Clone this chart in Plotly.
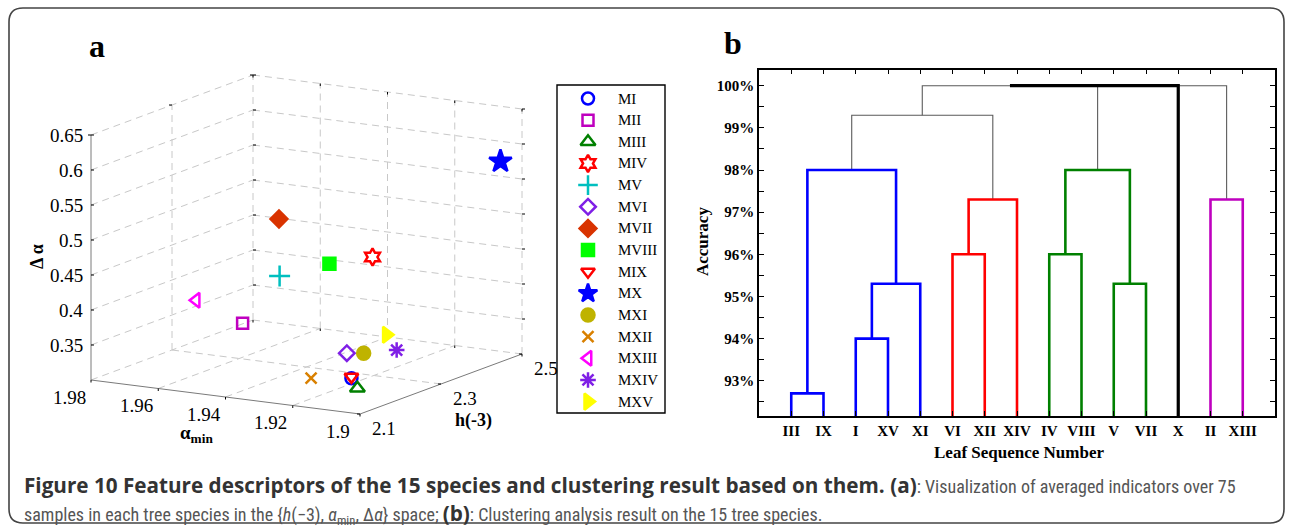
import plotly.graph_objects as go

W, H = 1292, 531

# ---------------- panel a: averaged indicators of each species ----------------
SPECIES = ["MI", "MII", "MIII", "MIV", "MV", "MVI", "MVII", "MVIII",
           "MIX", "MX", "MXI", "MXII", "MXIII", "MXIV", "MXV"]
H3 = [2.22, 2.30, 2.16, 2.38, 2.30, 2.30, 2.34, 2.34,
      2.22, 2.48, 2.30, 2.22, 2.26, 2.34, 2.34]
ALPHA_MIN = [1.917, 1.959, 1.908, 1.930, 1.948, 1.928, 1.953, 1.938,
             1.917, 1.904, 1.923, 1.929, 1.968, 1.918, 1.921]
DELTA_ALPHA = [0.315, 0.351, 0.319, 0.446, 0.425, 0.327, 0.495, 0.440,
               0.317, 0.577, 0.330, 0.308, 0.387, 0.329, 0.349]

SYMBOLS = ["circle-open", "square-open", "triangle-up-open", "hexagram-open",
           "cross-thin-open", "diamond-open", "diamond", "square",
           "triangle-down-open", "star", "circle", "x-thin-open",
           "triangle-left-open", "asterisk-open", "triangle-right"]
COLORS = ["#0000FF", "#BF00BF", "#008000", "#FF0000", "#00BFBF", "#7F1FE6",
          "#D93300", "#00FF00", "#FF0000", "#0000FF", "#BFB300", "#D98000",
          "#FF00FF", "#7F1FE6", "#FFFF00"]
SIZES = [12, 11, 13, 13, 15, 12, 13, 12, 12, 17, 13, 11, 13, 13, 14]

ALPHA_TICKS = [1.98, 1.96, 1.94, 1.92, 1.90]
H_TICKS = [2.1, 2.3, 2.5]
DA_TICKS = [0.35, 0.40, 0.45, 0.50, 0.55, 0.60, 0.65]

# box limits of the 3-D view
A_LO, A_HI = 1.90, 1.98
H_LO, H_HI = 2.1, 2.5
Z_LO, Z_HI = 0.30, 0.65

# oblique projection of the 3-D box onto the page (pixels)
ORIGIN = (91.0, 380.0)     # corner alpha=1.98, h=2.1, delta=0.30
EU = (269.0, 34.0)         # alpha 1.98 -> 1.90
EV = (162.0, -60.0)        # h 2.1 -> 2.5
EZ = 700.0                 # pixels per unit of delta alpha


def proj(a, h, z):
    u = (A_HI - a) / (A_HI - A_LO)
    v = (h - H_LO) / (H_HI - H_LO)
    return (ORIGIN[0] + EU[0] * u + EV[0] * v,
            ORIGIN[1] + EU[1] * u + EV[1] * v - EZ * (z - Z_LO))


def seg_list(pairs):
    xs, ys = [], []
    for p, q in pairs:
        xs += [p[0], q[0], None]
        ys += [p[1], q[1], None]
    return xs, ys


# ---------------- panel b: dendrogram ----------------
LEAVES = ["III", "IX", "I", "XV", "XI", "VI", "XII", "XIV",
          "IV", "VIII", "V", "VII", "X", "II", "XIII"]
# merge k creates node 15+k from nodes LINK_A[k] and LINK_B[k]
LINK_A = [0, 2, 16, 15, 5, 19, 18, 8, 10, 22, 13, 21, 26, 27]
LINK_B = [1, 3, 4, 17, 6, 7, 20, 9, 11, 23, 14, 24, 12, 25]
LINK_ACC = [92.7, 94.0, 95.3, 98.0, 96.0, 97.3, 99.3,
            96.0, 95.3, 98.0, 97.3, 100.0, 100.0, 100.0]
LINK_GROUP = ["blue", "blue", "blue", "blue", "red", "red", "top",
              "green", "green", "green", "magenta", "top", "single", "top"]
ACC_TICKS = [92.5 + 0.5 * i for i in range(16)]

serif = "Liberation Serif, Times New Roman, serif"

fig = go.Figure()

# ---- 3-D box: grid lines ----
grid = []
for a in ALPHA_TICKS:                       # floor, constant alpha
    if a != A_LO:
        grid.append((proj(a, H_LO, Z_LO), proj(a, H_HI, Z_LO)))
for h in H_TICKS:                           # floor, constant h
    if h != H_LO:
        grid.append((proj(A_HI, h, Z_LO), proj(A_LO, h, Z_LO)))
for z in DA_TICKS:                          # back walls, constant delta
    grid.append((proj(A_HI, H_LO, z), proj(A_HI, H_HI, z)))
    grid.append((proj(A_HI, H_HI, z), proj(A_LO, H_HI, z)))
for h in H_TICKS:                           # wall alpha=1.98, verticals
    if h != H_LO:
        grid.append((proj(A_HI, h, Z_LO), proj(A_HI, h, Z_HI)))
for a in ALPHA_TICKS:                       # wall h=2.5, verticals
    if a != A_HI:
        grid.append((proj(a, H_HI, Z_LO), proj(a, H_HI, Z_HI)))
gx, gy = seg_list(grid)
fig.add_trace(go.Scatter(x=gx, y=gy, mode="lines", hoverinfo="skip",
                         line=dict(color="#C8C8C8", width=1, dash="7px,5px"),
                         showlegend=False))

# ---- 3-D box: axis lines ----
axes3d = [(proj(A_HI, H_LO, Z_LO), proj(A_HI, H_LO, Z_HI)),
          (proj(A_HI, H_LO, Z_LO), proj(A_LO, H_LO, Z_LO)),
          (proj(A_LO, H_LO, Z_LO), proj(A_LO, H_HI, Z_LO))]
ax_, ay_ = seg_list(axes3d)
fig.add_trace(go.Scatter(x=ax_, y=ay_, mode="lines", hoverinfo="skip",
                         line=dict(color="#7A7A7A", width=1), showlegend=False))

# ---- 3-D box: tick marks ----
ticks = []
for z in DA_TICKS:
    for a, h in [(A_HI, H_LO), (A_HI, H_HI), (A_LO, H_HI)]:
        px, py = proj(a, h, z)
        ticks.append(((px, py), (px + 3, py)))
for a in ALPHA_TICKS:
    for h, z in [(H_LO, Z_LO), (H_HI, Z_LO), (H_HI, Z_HI)]:
        px, py = proj(a, h, z)
        ticks.append(((px, py), (px, py + 2.5)))
for h in H_TICKS:
    for a, z in [(A_LO, Z_LO), (A_HI, Z_HI)]:
        px, py = proj(a, h, z)
        ticks.append(((px, py), (px - 3, py)))
tx, ty = seg_list(ticks)
fig.add_trace(go.Scatter(x=tx, y=ty, mode="lines", hoverinfo="skip",
                         line=dict(color="#000000", width=1), showlegend=False))

# ---- species points ----
pts = [proj(a, h, z) for a, h, z in zip(ALPHA_MIN, H3, DELTA_ALPHA)]
fig.add_trace(go.Scatter(
    x=[p[0] for p in pts], y=[p[1] for p in pts], mode="markers",
    text=SPECIES, hoverinfo="text", showlegend=False,
    marker=dict(symbol=SYMBOLS, color=COLORS, size=SIZES, opacity=1,
                line=dict(color=COLORS, width=2.5))))

# ---- legend box for panel a ----
LEG_X0, LEG_X1, LEG_Y0, LEG_Y1 = 557, 665, 85, 413
LEG_ROW0, LEG_STEP = 98.5, 21.65
leg_y = [LEG_ROW0 + i * LEG_STEP for i in range(len(SPECIES))]
fig.add_trace(go.Scatter(
    x=[588] * len(SPECIES), y=leg_y, mode="markers", hoverinfo="skip",
    showlegend=False,
    marker=dict(symbol=SYMBOLS, color=COLORS, opacity=1,
                size=[min(s, 14) for s in SIZES],
                line=dict(color=COLORS, width=2.5))))

annotations = []
for name, y in zip(SPECIES, leg_y):
    annotations.append(dict(x=616, y=y, xref="x", yref="y", text=name,
                            showarrow=False, xanchor="left", yanchor="middle",
                            font=dict(family=serif, size=15, color="#000")))

# tick labels of the 3-D box
for z in DA_TICKS:
    px, py = proj(A_HI, H_LO, z)
    annotations.append(dict(x=px - 6, y=py, xref="x", yref="y", text=f"{z:g}",
                            showarrow=False, xanchor="right", yanchor="middle",
                            font=dict(family=serif, size=19, color="#000")))
for a in ALPHA_TICKS:
    px, py = proj(a, H_LO, Z_LO)
    annotations.append(dict(x=px - 22, y=py + 17, xref="x", yref="y", text=f"{a:g}",
                            showarrow=False, xanchor="center", yanchor="middle",
                            font=dict(family=serif, size=19, color="#000")))
for h in H_TICKS:
    px, py = proj(A_LO, h, Z_LO)
    annotations.append(dict(x=px + 24, y=py + 14, xref="x", yref="y", text=f"{h:g}",
                            showarrow=False, xanchor="center", yanchor="middle",
                            font=dict(family=serif, size=19, color="#000")))

annotations += [
    dict(x=37, y=257, xref="x", yref="y", text="<b>Δ α</b>", textangle=-90,
         showarrow=False, font=dict(family=serif, size=18, color="#000")),
    dict(x=196, y=434, xref="x", yref="y", text="<b>α<sub>min</sub></b>",
         showarrow=False, font=dict(family=serif, size=19, color="#000")),
    dict(x=473, y=420, xref="x", yref="y", text="<b>h(-3)</b>",
         showarrow=False, font=dict(family=serif, size=18, color="#000")),
    dict(x=97, y=46, xref="x", yref="y", text="<b>a</b>",
         showarrow=False, font=dict(family=serif, size=32, color="#000")),
    dict(x=733, y=43, xref="x", yref="y", text="<b>b</b>",
         showarrow=False, font=dict(family=serif, size=32, color="#000")),
]

# ---- dendrogram ----
BASE = 92.0
node_x = {i: float(i + 1) for i in range(len(LEAVES))}
node_h = {i: BASE for i in range(len(LEAVES))}
segs = {g: [] for g in ["top", "blue", "red", "green", "magenta", "single"]}
for k, (a, b, acc, g) in enumerate(zip(LINK_A, LINK_B, LINK_ACC, LINK_GROUP)):
    xa, xb = node_x[a], node_x[b]
    segs[g] += [(xa, node_h[a]), (xa, acc), (xb, acc), (xb, node_h[b]), (None, None)]
    node_x[len(LEAVES) + k] = (xa + xb) / 2
    node_h[len(LEAVES) + k] = acc

styles = {"top": ("#5A5A5A", 1.1), "blue": ("#0000FF", 2.6), "red": ("#FF0000", 2.6),
          "green": ("#008000", 2.6), "magenta": ("#BF00BF", 2.6), "single": ("#000000", 3.2)}
for g in ["top", "blue", "red", "green", "magenta", "single"]:
    c, w = styles[g]
    fig.add_trace(go.Scatter(x=[p[0] for p in segs[g]], y=[p[1] for p in segs[g]],
                             mode="lines", xaxis="x2", yaxis="y2", hoverinfo="skip",
                             line=dict(color=c, width=w), showlegend=False))

acc_text = [f"<b>{t:.0f}%</b>" if abs(t - round(t)) < 1e-9 else "" for t in ACC_TICKS]

annotations += [
    dict(x=702, y=242, xref="x", yref="y", text="<b>Accuracy</b>", textangle=-90,
         showarrow=False, font=dict(family=serif, size=17, color="#000")),
    dict(x=1019, y=452, xref="x", yref="y", text="<b>Leaf Sequence Number</b>",
         showarrow=False, font=dict(family=serif, size=17, color="#000")),
]

# ---- caption: bold run-in heading, narrow body text ----
body_font = "Liberation Sans Narrow, Roboto Condensed, Roboto, sans-serif"
head = "<span style=\"font-family:'Open Sans';font-weight:bold;font-size:20.7px;color:#333333\">{}</span>"
annotations += [
    dict(x=22, y=485, xref="x", yref="y", xanchor="left", yanchor="middle",
         showarrow=False, font=dict(family=body_font, size=18, color="#555555"),
         text=(head.format("Figure 10 Feature descriptors of the 15 species and "
                           "clustering result based on them. (a)")
               + ": Visualization of averaged indicators over 75")),
    dict(x=22, y=513, xref="x", yref="y", xanchor="left", yanchor="middle",
         showarrow=False, font=dict(family=body_font, size=18, color="#555555"),
         text=("samples in each tree species in the {<i>h</i>(−3), <i>α</i><sub>min</sub>, "
               "Δ<i>α</i>} space; " + head.format("(b)")
               + ": Clustering analysis result on the 15 tree species.")),
]

# outer rounded frame and legend frame
r = 14
x0, y0, x1, y1 = 9, 8, 1284, 523
frame = (f"M {x0 + r},{y0} L {x1 - r},{y0} Q {x1},{y0} {x1},{y0 + r} "
         f"L {x1},{y1 - r} Q {x1},{y1} {x1 - r},{y1} L {x0 + r},{y1} "
         f"Q {x0},{y1} {x0},{y1 - r} L {x0},{y0 + r} Q {x0},{y0} {x0 + r},{y0} Z")
shapes = [
    dict(type="path", path=frame, xref="x", yref="y",
         line=dict(color="#444444", width=1.6)),
    dict(type="rect", x0=LEG_X0, x1=LEG_X1, y0=LEG_Y0, y1=LEG_Y1, xref="x", yref="y",
         line=dict(color="#000000", width=1.4)),
]

PB_X0, PB_X1, PB_Y0, PB_Y1 = 759, 1275, 69.5, 416
fig.update_layout(
    width=W, height=H, margin=dict(l=0, r=0, t=0, b=0),
    paper_bgcolor="white", plot_bgcolor="rgba(0,0,0,0)",
    showlegend=False, annotations=annotations, shapes=shapes,
    xaxis=dict(range=[0, W], domain=[0, 1], visible=False, fixedrange=True),
    yaxis=dict(range=[H, 0], domain=[0, 1], visible=False, fixedrange=True),
    xaxis2=dict(domain=[PB_X0 / W, PB_X1 / W], anchor="y2", range=[0, 16],
                tickvals=list(range(1, 16)), ticktext=[f"<b>{s}</b>" for s in LEAVES],
                ticks="inside", ticklen=5, tickcolor="#000", showline=True,
                linecolor="#000", linewidth=1.5, mirror="ticks", showgrid=False,
                zeroline=False, tickfont=dict(family=serif, size=15, color="#000"),
                fixedrange=True),
    yaxis2=dict(domain=[1 - PB_Y1 / H, 1 - PB_Y0 / H], anchor="x2",
                range=[100 - (PB_Y1 - 85.7) / 42.15, 100 + (85.7 - PB_Y0) / 42.15],
                tickvals=ACC_TICKS, ticktext=acc_text, ticks="inside", ticklen=5,
                tickcolor="#000", showline=True, linecolor="#000", linewidth=1.5,
                mirror="ticks", showgrid=False, zeroline=False,
                tickfont=dict(family=serif, size=15, color="#000"), fixedrange=True),
)

fig.write_html("out.html")
